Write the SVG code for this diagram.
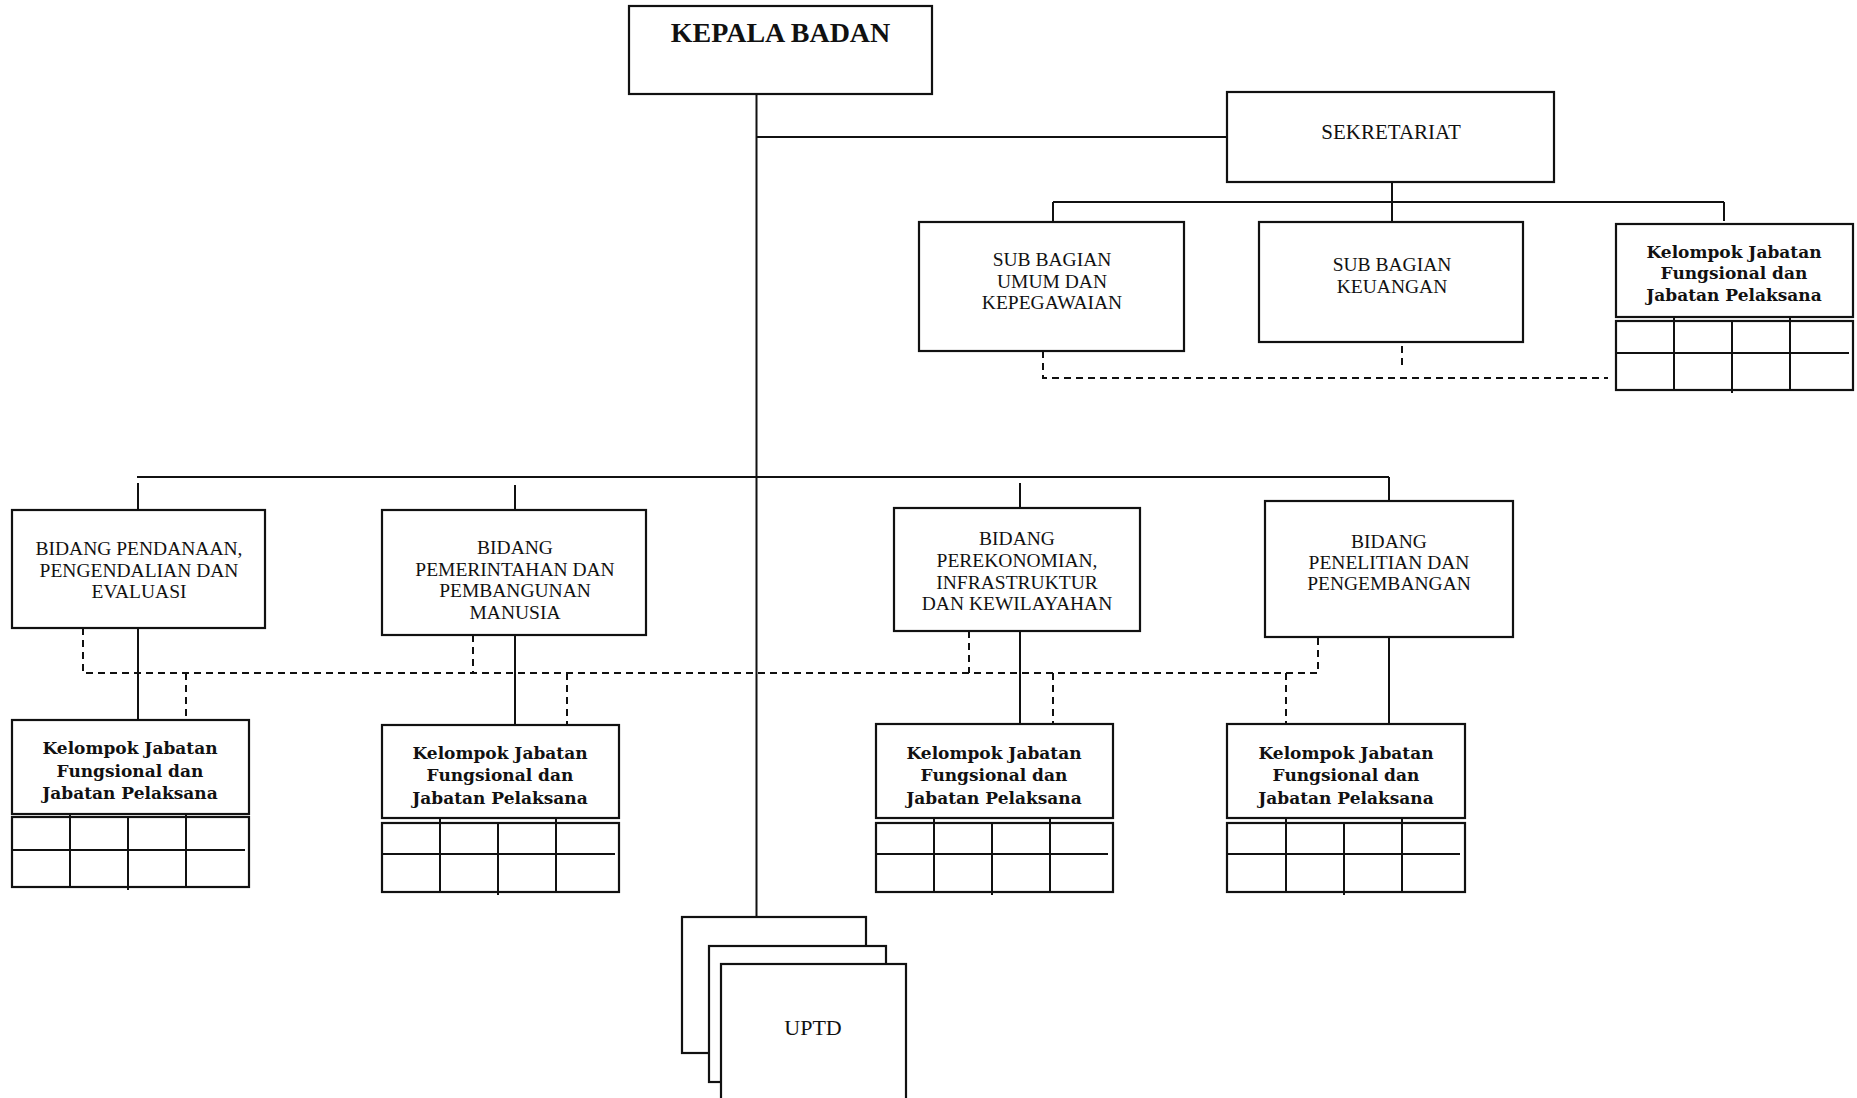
<svg xmlns="http://www.w3.org/2000/svg" width="1857" height="1098" viewBox="0 0 1857 1098">
<style>
.box{fill:#fff;stroke:#111;stroke-width:2.2}
.ln{fill:none;stroke:#111;stroke-width:2}
.ds{fill:none;stroke:#111;stroke-width:2;stroke-dasharray:7 5}
.t{font-family:"Liberation Serif","Times New Roman",serif;font-size:19.5px;fill:#111;text-anchor:middle}
.b{font-family:"DejaVu Serif","Liberation Serif",serif;font-weight:bold;font-size:17px;fill:#111;text-anchor:middle}
.k{font-family:"Liberation Serif","Times New Roman",serif;font-weight:bold;font-size:28px;fill:#111;text-anchor:middle}
</style>
<rect width="1857" height="1098" fill="#fff"/>
<g id="connectors">
  <path class="ln" d="M756.5 94 V917 M756.5 137 H1227 M1392 182 V223 M1053 202 H1724 M1053 202 V222 M1724 202 V221"/>
  <path class="ln" d="M137 477 H1389 M138 483 V510 M515 485 V510 M1020 483 V508 M1389 477 V501"/>
  <path class="ln" d="M138 628 V720 M515 635 V725 M1020 631 V724 M1389 637 V724"/>
  <path class="ds" d="M1043 351 V378 H1608 M1402 346 V367"/>
  <path class="ds" d="M83 628 V673 H1318 V637 M473 635 V673 M969 631 V673 M186 673 V720 M567 673 V724 M1053 673 V724 M1286 673 V724"/>
</g>
<g id="kepala"><rect class="box" x="629" y="6" width="303" height="88"/><text class="k" x="780.5" y="42">KEPALA BADAN</text></g>
<g id="sekretariat"><rect class="box" x="1227" y="92" width="327" height="90"/><text class="t" x="1391" y="139" style="font-size:21px">SEKRETARIAT</text></g>
<g id="subbag-umum"><rect class="box" x="919" y="222" width="265" height="129"/><text class="t" x="1052"><tspan x="1052" y="266">SUB BAGIAN</tspan><tspan x="1052" y="288">UMUM DAN</tspan><tspan x="1052" y="309">KEPEGAWAIAN</tspan></text></g>
<g id="subbag-keuangan"><rect class="box" x="1259" y="222" width="264" height="120"/><text class="t" x="1392"><tspan x="1392" y="271">SUB BAGIAN</tspan><tspan x="1392" y="293">KEUANGAN</tspan></text></g>
<g id="kjf-sekretariat"><rect class="box" x="1616" y="224" width="237" height="93"/><text class="b"><tspan x="1734" y="258">Kelompok Jabatan</tspan><tspan x="1734" y="279">Fungsional dan</tspan><tspan x="1734" y="301">Jabatan Pelaksana</tspan></text>
  <rect class="box" x="1616" y="321" width="237" height="69"/><path class="ln" d="M1616 353 H1849 M1674 318 V390 M1732 321 V393 M1790 318 V390"/></g>
<g id="bidang-1"><rect class="box" x="12" y="510" width="253" height="118"/><text class="t"><tspan x="139" y="555">BIDANG PENDANAAN,</tspan><tspan x="139" y="577">PENGENDALIAN DAN</tspan><tspan x="139" y="598">EVALUASI</tspan></text></g>
<g id="bidang-2"><rect class="box" x="382" y="510" width="264" height="125"/><text class="t"><tspan x="515" y="554">BIDANG</tspan><tspan x="515" y="576">PEMERINTAHAN DAN</tspan><tspan x="515" y="597">PEMBANGUNAN</tspan><tspan x="515" y="619">MANUSIA</tspan></text></g>
<g id="bidang-3"><rect class="box" x="894" y="508" width="246" height="123"/><text class="t"><tspan x="1017" y="545">BIDANG</tspan><tspan x="1017" y="567">PEREKONOMIAN,</tspan><tspan x="1017" y="589">INFRASTRUKTUR</tspan><tspan x="1017" y="610">DAN KEWILAYAHAN</tspan></text></g>
<g id="bidang-4"><rect class="box" x="1265" y="501" width="248" height="136"/><text class="t"><tspan x="1389" y="548">BIDANG</tspan><tspan x="1389" y="569">PENELITIAN DAN</tspan><tspan x="1389" y="590">PENGEMBANGAN</tspan></text></g>
<g id="kjf-1"><rect class="box" x="12" y="720" width="237" height="94"/><text class="b"><tspan x="130" y="754">Kelompok Jabatan</tspan><tspan x="130" y="777">Fungsional dan</tspan><tspan x="130" y="799">Jabatan Pelaksana</tspan></text>
  <rect class="box" x="12" y="817" width="237" height="70"/><path class="ln" d="M12 850 H245 M70 814 V887 M128 817 V890 M186 814 V887"/></g>
<g id="kjf-2"><rect class="box" x="382" y="725" width="237" height="93"/><text class="b"><tspan x="500" y="759">Kelompok Jabatan</tspan><tspan x="500" y="781">Fungsional dan</tspan><tspan x="500" y="804">Jabatan Pelaksana</tspan></text>
  <rect class="box" x="382" y="823" width="237" height="69"/><path class="ln" d="M382 854 H615 M440 819 V892 M498 823 V895 M556 819 V892"/></g>
<g id="kjf-3"><rect class="box" x="876" y="724" width="237" height="94"/><text class="b"><tspan x="994" y="759">Kelompok Jabatan</tspan><tspan x="994" y="781">Fungsional dan</tspan><tspan x="994" y="804">Jabatan Pelaksana</tspan></text>
  <rect class="box" x="876" y="823" width="237" height="69"/><path class="ln" d="M876 854 H1108 M934 819 V892 M992 823 V895 M1050 819 V892"/></g>
<g id="kjf-4"><rect class="box" x="1227" y="724" width="238" height="94"/><text class="b"><tspan x="1346" y="759">Kelompok Jabatan</tspan><tspan x="1346" y="781">Fungsional dan</tspan><tspan x="1346" y="804">Jabatan Pelaksana</tspan></text>
  <rect class="box" x="1227" y="823" width="238" height="69"/><path class="ln" d="M1227 854 H1460 M1286 819 V892 M1344 823 V895 M1402 819 V892"/></g>
<g id="uptd"><rect class="box" x="682" y="917" width="184" height="136"/><rect class="box" x="709" y="946" width="177" height="136"/><rect class="box" x="721" y="964" width="185" height="140"/><text class="t" x="813" y="1035" style="font-size:22px">UPTD</text></g>
</svg>
